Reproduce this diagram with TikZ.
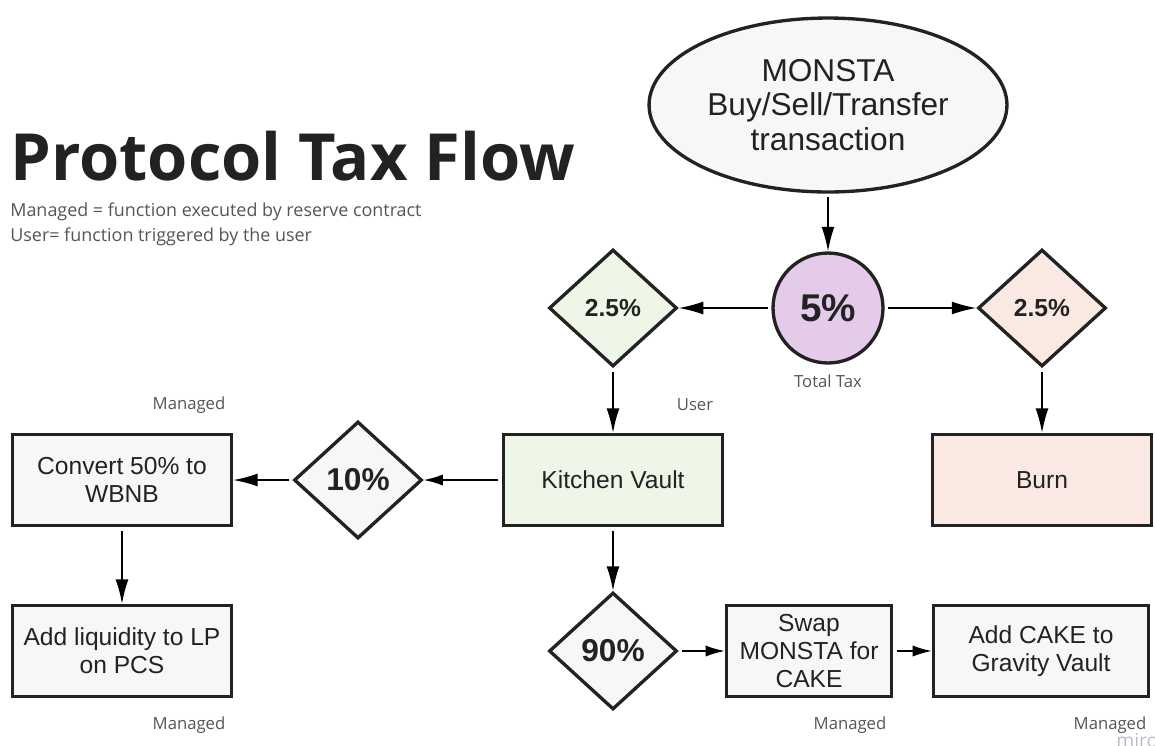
\documentclass[tikz,border=0pt]{standalone}
\usepackage{fontspec}
\setmainfont{Liberation Sans}
\newfontfamily\opensans{Open Sans}
\usetikzlibrary{shapes.geometric,arrows.meta}

\definecolor{boxgray}{HTML}{F7F7F7}
\definecolor{vaultgreen}{HTML}{EEF6E8}
\definecolor{burnpink}{HTML}{FAE8E3}
\definecolor{taxpurple}{HTML}{E4CBEA}
\definecolor{edgeblack}{HTML}{222222}
\definecolor{notegray}{HTML}{555555}
\definecolor{mirogray}{HTML}{B8BCC8}

\tikzset{
  taskbox/.style={draw=edgeblack, line width=1.9pt, fill=boxgray, minimum width=4.38cm,
    minimum height=1.82cm, align=center, inner sep=2pt, text=edgeblack,
    font=\fontsize{14}{16}\selectfont},
  splitdiamond/.style={diamond, draw=edgeblack, line width=1.9pt, fill=boxgray,
    minimum width=2.56cm, minimum height=2.34cm, inner sep=0pt, text=edgeblack,
    font=\bfseries\fontsize{14}{16}\selectfont},
  flowarrow/.style={line width=0.9pt, -{Latex[length=14pt,width=7.4pt]}, shorten <=2pt},
  shortarrow/.style={line width=0.9pt, -{Latex[length=11pt,width=6.4pt]}, shorten <=2pt},
  note/.style={font=\opensans\fontsize{9.5}{11}\selectfont, text=notegray}
}

\begin{document}
\begin{tikzpicture}[x=0.02cm, y=-0.02cm]
    \useasboundingbox (0,0) rectangle (1155,745);

    % heading
    \node [anchor=base west, inner sep=0pt, text=edgeblack, font=\opensans\bfseries\fontsize{37}{40}\selectfont] (title) at (10,180) {Protocol Tax Flow};
    \node [note, anchor=base west, inner sep=0pt, font=\opensans\fontsize{10.2}{12}\selectfont] (legendmanaged) at (10,216) {Managed = function executed by reserve contract};
    \node [note, anchor=base west, inner sep=0pt, font=\opensans\fontsize{10.2}{12}\selectfont] (legenduser) at (10,241) {User= function triggered by the user};

    % top of the flow
    \node [ellipse, draw=edgeblack, line width=1.9pt, fill=boxgray, minimum width=7.14cm, minimum height=3.48cm,
      align=center, text=edgeblack, font=\fontsize{18}{19.5}\selectfont] (txn) at (828,105) {MONSTA\\Buy/Sell/Transfer\\transaction};
    \node [circle, draw=edgeblack, line width=1.9pt, fill=taxpurple, minimum size=2.2cm, inner sep=0pt,
      text=edgeblack, font=\bfseries\fontsize{22}{24}\selectfont] (tax) at (828,308) {5\%};
    \node [note] (taxlabel) at (828,381) {Total Tax};
    \node [splitdiamond, fill=vaultgreen] (userpct) at (613,308) {2.5\%};
    \node [splitdiamond, fill=burnpink] (burnpct) at (1042,308) {2.5\%};

    % vaults
    \node [taskbox, fill=vaultgreen] (vault) at (613,480) {Kitchen Vault};
    \node [note] (userlabel) at (695,405) {User};
    \node [taskbox, fill=burnpink] (burn) at (1042,480) {Burn};

    % 10% branch
    \node [splitdiamond, font=\bfseries\fontsize{18}{20}\selectfont] (lpsplit) at (358,480) {10\%};
    \node [taskbox] (convert) at (122,480) {Convert 50\% to\\WBNB};
    \node [note] (convertlabel) at (189,405) {Managed};
    \node [taskbox] (addlp) at (122,651) {Add liquidity to LP\\on PCS};
    \node [note] (addlplabel) at (189,725) {Managed};

    % 90% branch
    \node [splitdiamond, font=\bfseries\fontsize{18}{20}\selectfont] (cakesplit) at (613,651) {90\%};
    \node [taskbox, minimum width=3.3cm] (swap) at (809,651) {Swap\\MONSTA for\\CAKE};
    \node [note] (swaplabel) at (850,725) {Managed};
    \node [taskbox, minimum width=4.3cm] (gravity) at (1041,651) {Add CAKE to\\Gravity Vault};
    \node [note] (gravitylabel) at (1110,725) {Managed};
    \node [anchor=north west, inner sep=0pt, text=mirogray, font=\opensans\fontsize{11}{12}\selectfont] (miro) at (1116,733) {miro};

    % connectors
    \draw [flowarrow] (txn) -- (tax);
    \draw [flowarrow] (tax) -- (userpct);
    \draw [flowarrow] (tax) -- (burnpct);
    \draw [flowarrow] (userpct) -- (vault);
    \draw [flowarrow] (burnpct) -- (burn);
    \draw [shortarrow] (vault) -- (lpsplit);
    \draw [flowarrow] (lpsplit) -- (convert);
    \draw [flowarrow] (convert) -- (addlp);
    \draw [flowarrow] (vault) -- (cakesplit);
    \draw [shortarrow] (cakesplit) -- (swap);
    \draw [shortarrow] (swap) -- (gravity);
\end{tikzpicture}
\end{document}
